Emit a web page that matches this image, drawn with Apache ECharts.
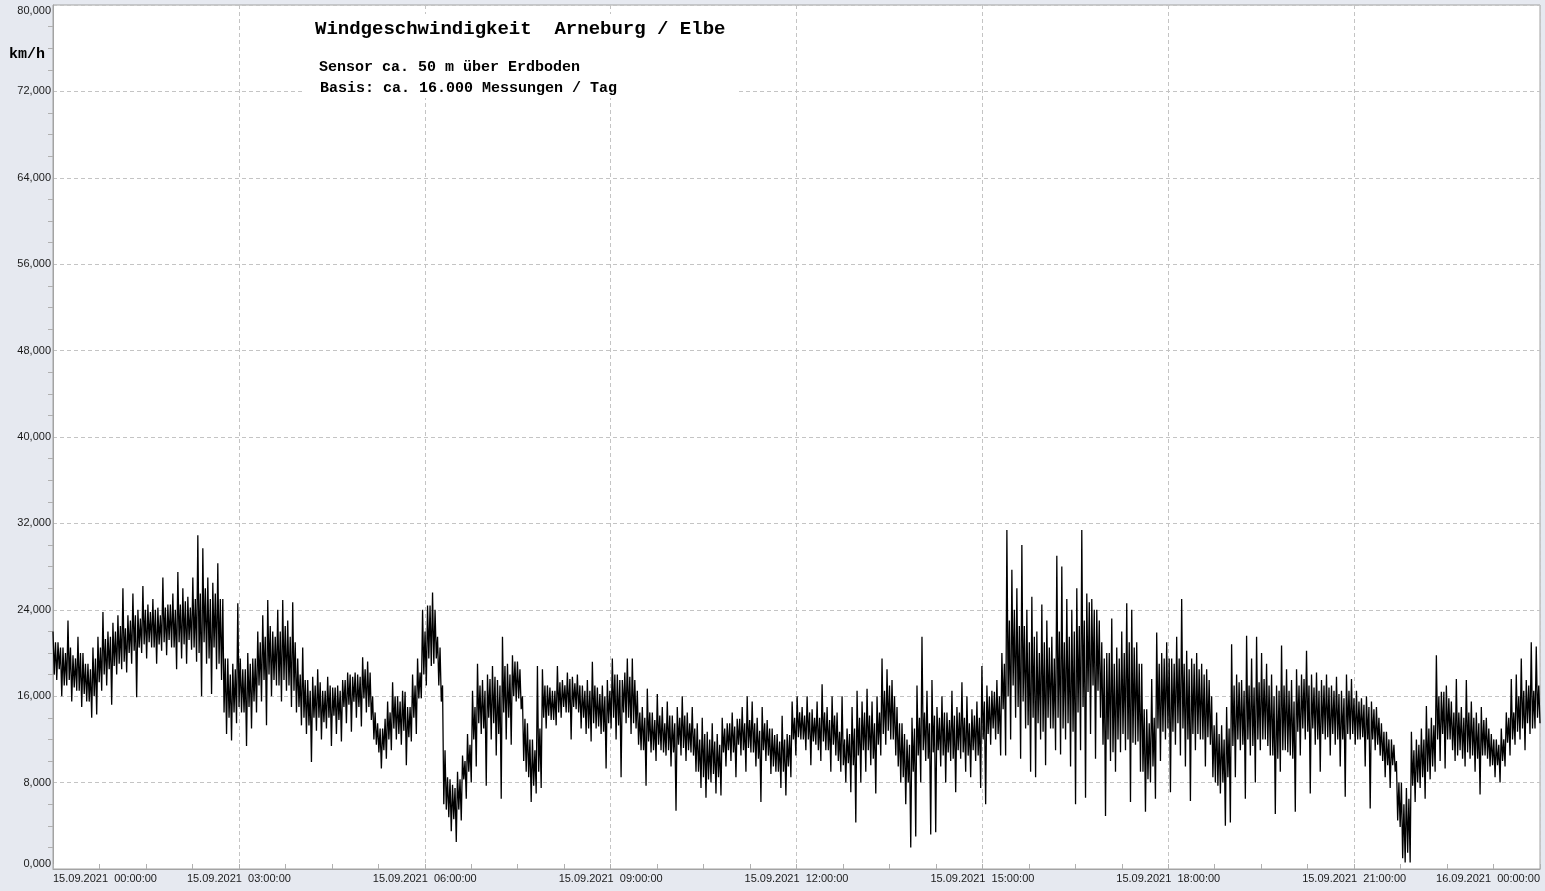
<!DOCTYPE html>
<html>
<head>
<meta charset="utf-8">
<script src="https://cdn.jsdelivr.net/npm/echarts@6/dist/echarts.min.js"></script>
<style>
html,body{margin:0;padding:0;background:#e6e9f0;}
#c{width:1545px;height:891px;}
</style>
</head>
<body>
<div id="c"></div>
<script>
// Wind speed km/h, one column every ~5 px.
// Envelope arrays: [upper spike, lower spike] per column.
var h00_03 = [22.0,17.5,21.0,16.0,20.5,17.0,23.0,15.5,19.8,16.5,21.5,15.0,20.0,15.5,19.0,14.0,20.5,14.3,21.5,16.5,23.8,17.0,22.0,15.2,22.8,18.0,23.5,18.5,26.0,18.2,23.5,19.0,25.5,15.9,24.0,20.0,26.2,19.5,24.5,20.5,25.0,19.0,24.2,20.2,27.0,19.8,24.5,20.5,25.5,18.5,27.5,19.5,26.0,19.0,25.2,20.3,27.0,19.2,30.9,16.0,29.7,19.0,27.0,16.2,26.5,18.5,28.3,17.5,25.0,12.5,19.5,11.9,19.0,13.5,24.6,14.5];
var h03_06 = [18.5,11.4,20.0,13.0,19.5,14.5,22.0,15.5,23.5,13.3,24.9,16.0,22.0,17.0,24.0,15.5,24.9,16.5,23.0,15.0,24.7,14.5,19.5,13.3,20.5,12.5,17.5,9.9,17.8,12.8,18.5,12.0,16.5,13.0,17.8,11.4,16.8,12.5,17.0,11.8,17.5,13.5,18.2,12.7,17.8,14.0,18.0,13.2,19.6,14.5,19.2,13.8,16.0,11.5,13.5,9.3,13.0,10.2,15.5,11.0,17.3,12.0,16.0,11.5,16.5,9.6,15.0,11.8,18.0,12.5,19.5,15.8,24.0,17.0];
var h06_09 = [24.4,18.8,25.6,19.5,21.5,15.5,17.0,5.5,8.5,3.5,7.8,2.5,9.0,4.5,10.5,6.5,12.5,8.0,16.5,9.5,19.0,12.5,17.5,7.7,18.0,12.0,18.8,10.5,17.5,6.5,21.5,12.0,19.0,11.5,19.8,15.5,19.2,14.8,16.0,9.0,13.5,6.2,12.0,7.0,18.8,7.5,18.5,13.0,17.0,13.8,16.5,13.3,18.8,14.0,17.5,14.5,18.2,12.0,17.8,14.8,18.0,13.0,17.0,12.5,17.5,11.8,19.2,13.0,16.8,12.5,17.0,9.3,17.5,13.0];
var h09_12 = [19.5,12.0,18.0,8.5,17.5,13.5,19.5,12.5,19.5,13.0,16.5,11.0,15.0,7.7,16.7,10.8,14.5,10.0,16.2,11.0,15.0,10.5,15.5,9.5,14.2,5.4,15.0,10.5,16.0,10.0,14.5,10.8,15.0,9.0,13.5,7.5,14.0,6.6,12.7,8.0,13.5,7.0,12.5,6.8,14.0,9.5,13.5,10.0,14.5,8.5,13.9,10.5,15.0,9.0,16.0,10.8,15.5,9.5,14.0,6.2,15.0,10.0,13.8,8.8,13.0,9.0,12.5,7.5,14.2,6.8,12.5,8.5,15.5,10.5];
var h12_15 = [16.0,12.0,15.0,11.0,16.0,9.6,14.8,11.5,15.5,10.0,17.1,11.0,15.0,9.0,16.0,10.5,14.5,9.0,16.0,8.0,13.0,7.1,15.0,4.3,16.5,8.0,15.5,9.0,16.7,9.6,15.5,7.0,16.0,10.5,19.5,11.5,18.5,12.0,17.5,10.5,15.0,8.0,13.5,6.0,12.0,2.0,14.0,3.0,17.0,8.0,21.5,10.0,16.5,3.2,17.5,3.4,15.0,9.5,16.0,8.0,14.5,10.0,16.5,7.1,15.0,10.2,17.3,9.0,16.0,8.5,14.8,10.0,15.5,7.5];
var h15_18 = [18.8,6.0,17.0,11.5,16.5,12.0,17.5,10.5,20.0,10.5,31.4,12.0,27.7,14.0,26.0,10.2,30.0,13.0,24.0,9.0,25.2,8.5,22.0,12.0,24.5,9.6,23.0,13.0,21.5,11.0,29.0,10.6,28.0,12.0,25.0,9.5,24.0,6.0,26.0,11.0,31.4,6.6,25.5,12.5,25.0,10.2,24.0,14.0,21.0,4.9,20.0,10.0,23.2,9.0,20.5,10.8,22.0,11.0,24.6,6.2,24.0,11.5,21.0,9.0,19.0,5.3,14.8,8.0,17.6,6.5,21.9,10.0,20.0,12.0];
var h18_21 = [21.0,7.1,19.5,11.5,21.5,10.5,25.0,9.5,20.2,6.3,19.5,11.0,20.0,12.0,19.0,9.5,18.5,11.5,16.0,8.0,14.5,7.0,13.3,4.0,15.0,4.3,20.8,8.5,18.0,11.0,17.5,6.5,21.6,10.5,19.5,8.0,21.5,11.0,20.0,12.0,19.0,10.5,18.0,5.1,17.0,9.0,20.7,11.0,18.5,10.5,17.5,5.3,18.5,10.5,18.0,12.0,20.2,7.0,18.0,11.5,18.2,9.0,17.5,12.0,18.0,10.5,17.0,11.5,17.8,9.5,16.5,6.7,18.0,12.0];
var h21_24 = [17.6,11.5,16.5,12.0,15.8,9.5,16.0,5.6,15.5,11.0,15.0,10.5,13.5,8.5,12.7,7.5,12.0,9.0,10.0,3.9,8.0,0.6,7.5,0.6,12.7,6.2,12.0,7.5,13.0,6.5,15.1,8.3,14.0,9.0,19.8,10.0,16.4,9.3,17.0,12.0,15.5,10.0,17.6,11.0,15.0,9.5,17.5,10.2,15.5,9.0,14.5,6.9,15.0,10.5,14.0,9.5,12.5,8.5,12.0,8.0,13.0,9.5,14.5,10.5,17.6,11.5,18.0,12.0,19.5,11.0,17.5,12.5,21.0,13.0,20.6,13.5];

// Core band arrays: [upper edge, lower edge] of the dense dark band per column.
var c00_03 = [21.0,18.0,20.5,18.5,20.0,17.0,20.5,17.5,19.5,16.8,20.0,16.5,19.0,16.2,18.5,15.5,19.5,16.0,20.5,17.3,21.3,18.0,21.5,18.5,22.0,18.8,22.5,19.0,22.3,19.2,23.0,20.0,23.5,20.2,23.2,20.5,24.0,20.8,23.8,21.0,24.0,20.5,23.5,20.8,24.2,21.0,24.5,21.2,24.0,20.5,24.5,21.0,24.8,20.8,24.2,21.2,25.0,20.5,25.5,20.0,26.0,21.0,25.0,19.5,25.5,20.5,25.0,19.0,19.5,14.5,18.0,14.0,18.5,14.5,19.5,15.0];
var c03_06 = [18.5,14.5,19.0,15.0,19.5,15.5,21.0,17.0,21.5,17.5,22.5,18.0,21.5,17.5,22.0,17.0,22.5,17.5,21.5,17.0,21.0,16.5,18.0,15.0,17.5,14.0,16.5,13.3,17.0,14.0,17.3,14.0,16.5,13.6,17.0,14.0,16.8,14.2,16.5,13.8,17.5,15.0,18.0,15.2,18.2,15.5,17.8,15.0,18.5,15.8,18.2,15.0,14.5,12.0,13.0,10.8,13.9,11.0,14.5,12.0,16.0,13.0,15.5,12.5,16.4,12.8,15.0,12.2,17.0,14.0,18.2,15.8,22.0,18.0];
var c06_09 = [24.4,19.5,24.0,19.0,20.5,17.0,11.0,6.0,8.3,4.8,7.5,4.6,8.3,5.5,10.0,8.3,11.5,9.0,15.0,12.0,17.0,13.5,16.5,13.0,17.6,14.0,17.8,13.5,17.0,12.5,18.8,14.5,18.0,14.0,19.2,16.0,18.5,15.8,13.9,10.0,12.0,8.5,11.0,7.7,13.0,9.0,17.0,14.0,16.8,14.2,16.5,13.8,17.3,14.5,17.0,15.0,17.6,14.5,17.2,15.0,17.0,14.5,16.5,14.0,16.5,13.0,17.0,13.5,16.2,13.2,16.0,12.7,16.5,13.5];
var c09_12 = [18.0,14.0,17.5,13.3,18.2,14.5,17.8,14.0,17.5,13.5,14.5,11.5,14.0,11.0,14.5,11.8,13.8,11.0,14.2,11.5,13.5,10.8,14.2,11.0,13.5,10.8,14.0,11.5,14.2,11.2,13.5,11.0,13.0,10.5,12.0,9.0,12.5,8.5,12.0,8.3,11.8,8.8,11.5,8.5,13.0,10.8,13.5,11.0,13.2,10.8,13.9,11.5,13.5,11.0,13.8,11.2,13.5,10.8,12.8,10.2,13.5,11.0,13.0,10.5,12.4,9.5,11.8,9.0,12.0,9.0,12.4,9.5,14.0,12.0];
var c12_15 = [14.5,12.2,14.2,12.0,14.5,12.0,14.0,11.8,14.0,11.0,14.5,11.8,13.8,11.0,14.2,11.5,12.7,10.0,12.0,9.6,12.5,9.8,13.0,9.6,14.0,10.5,14.5,11.0,14.2,11.0,13.5,10.2,14.5,11.5,16.5,12.5,17.0,12.8,16.0,12.0,13.5,9.5,12.5,8.5,11.5,8.0,13.0,9.0,14.0,10.5,14.5,11.0,13.5,10.2,14.2,10.8,14.0,11.0,14.5,10.5,13.8,10.8,14.2,10.2,14.5,11.0,14.0,10.8,13.5,10.5,14.2,11.0,14.0,10.5];
var c15_18 = [15.5,12.0,16.0,12.5,16.4,13.0,16.0,12.5,19.0,14.8,23.0,16.0,24.0,17.0,22.5,15.0,22.5,15.5,21.0,13.3,21.5,14.0,20.0,13.5,21.0,12.7,20.5,14.0,19.5,13.0,22.0,14.0,21.0,13.0,21.5,13.5,22.0,12.7,22.5,14.5,23.0,15.0,24.7,16.4,24.0,17.0,23.0,16.5,19.5,11.5,20.0,12.0,19.0,10.8,19.5,12.0,20.0,12.5,21.0,12.0,20.5,11.7,19.0,11.8,14.8,9.0,13.5,8.3,14.0,9.5,19.0,13.0,19.5,12.7];
var c18_21 = [19.5,13.0,19.0,12.7,19.5,13.5,19.0,13.0,18.5,12.0,19.0,12.5,18.5,12.5,18.0,12.0,17.5,12.2,13.3,8.5,12.5,7.7,12.0,8.0,13.0,8.5,17.0,11.4,17.3,12.0,16.5,11.5,17.0,12.0,16.8,11.4,17.3,12.0,17.6,12.0,17.0,11.4,16.0,10.5,16.5,10.2,17.0,11.0,16.5,10.8,15.5,10.2,17.0,12.7,17.6,13.0,17.0,12.7,16.8,13.0,16.5,12.0,17.0,12.5,16.8,12.2,16.5,12.5,16.2,12.0,15.8,12.0,16.5,12.5];
var c21_24 = [15.8,12.5,15.5,12.0,15.2,12.2,15.0,12.0,14.8,12.0,14.0,11.5,12.7,10.0,12.0,9.6,11.5,9.6,8.0,4.5,6.0,1.0,6.5,1.5,11.0,7.7,11.5,8.0,12.0,8.5,13.0,9.0,13.3,9.5,16.0,12.0,16.4,12.5,15.8,12.0,14.5,11.0,14.5,10.5,14.0,10.2,14.5,10.8,14.0,10.5,13.5,10.2,13.8,10.5,13.0,10.2,12.0,9.6,11.5,9.6,12.0,10.0,14.0,11.7,14.5,12.0,16.0,12.7,16.5,13.0,17.0,13.5,16.5,13.0,17.0,14.0];

var yTicks = [0, 8, 16, 24, 32, 40, 48, 56, 64, 72, 80];
var xTickHours = [0, 3, 6, 9, 12, 15, 18, 21, 24];

var envelope = [].concat(h00_03, h03_06, h06_09, h09_12, h12_15, h15_18, h18_21, h21_24);
var core = [].concat(c00_03, c03_06, c06_09, c09_12, c12_15, c15_18, c18_21, c21_24);

// order per column: upper spike, core lower, core upper, lower spike
var speed = [];
for (var k = 0; k < envelope.length / 2; k++) {
  speed.push(envelope[2 * k], core[2 * k + 1], core[2 * k], envelope[2 * k + 1]);
}
var step = 24 / (speed.length - 1);
var seriesData = speed.map(function (v, i) { return [i * step, v]; });

function pad(n){ return (n < 10 ? '0' : '') + n; }

var chart = echarts.init(document.getElementById('c'), null, {renderer: 'canvas'});
chart.setOption({
  animation: false,
  backgroundColor: '#e6e9f0',
  grid: {
    left: 53, right: 5, top: 5, bottom: 22,
    show: true, backgroundColor: '#ffffff', borderColor: '#a3a3a3', borderWidth: 1
  },
  xAxis: {
    type: 'value', min: 0, max: 24, interval: 3,
    axisLine: {show: true, lineStyle: {color: '#a3a3a3'}},
    axisTick: {show: true, inside: true, length: 5, lineStyle: {color: '#b0b0b0'}},
    minorTick: {show: true, splitNumber: 4, length: 5, lineStyle: {color: '#b0b0b0'}},
    splitLine: {show: true, lineStyle: {color: '#c4c4c4', type: [4, 3]}},
    axisLabel: {
      margin: 4, fontSize: 11, color: '#1a1a1a', fontFamily: 'Liberation Sans',
      alignMinLabel: 'left', alignMaxLabel: 'right',
      formatter: function (v) {
        var day = v >= 24 ? '16.09.2021' : '15.09.2021';
        var h = v >= 24 ? 0 : v;
        return day + '  ' + pad(h) + ':00:00';
      }
    }
  },
  yAxis: {
    type: 'value', min: 0, max: 80, interval: 8,
    axisLine: {show: true, lineStyle: {color: '#a3a3a3'}},
    axisTick: {show: false},
    minorTick: {show: true, splitNumber: 4, length: 5, lineStyle: {color: '#b0b0b0'}},
    splitLine: {show: true, lineStyle: {color: '#c4c4c4', type: [4, 3]}},
    axisLabel: {
      margin: 2, fontSize: 11, color: '#1a1a1a', fontFamily: 'Liberation Sans',
      verticalAlignMinLabel: 'bottom', verticalAlignMaxLabel: 'top',
      formatter: function (v) { return v.toFixed(3).replace('.', ','); }
    }
  },
  series: [{
    type: 'line', data: seriesData, showSymbol: false, sampling: null,
    lineStyle: {color: '#000000', width: 1.3}, z: 5
  }],
  graphic: [
    {type: 'rect', shape: {x: 305, y: 14, width: 432, height: 84}, style: {fill: '#ffffff'}, z: 3},
    {type: 'text', x: 315, y: 29, z: 4, style: {text: 'Windgeschwindigkeit  Arneburg / Elbe', font: 'bold 19px "Liberation Mono"', fill: '#000', verticalAlign: 'middle'}},
    {type: 'text', x: 319, y: 67, z: 4, style: {text: 'Sensor ca. 50 m über Erdboden', font: 'bold 15px "Liberation Mono"', fill: '#000', verticalAlign: 'middle'}},
    {type: 'text', x: 320, y: 88, z: 4, style: {text: 'Basis: ca. 16.000 Messungen / Tag', font: 'bold 15px "Liberation Mono"', fill: '#000', verticalAlign: 'middle'}},
    {type: 'text', x: 9, y: 54, z: 4, style: {text: 'km/h', font: 'bold 15px "Liberation Mono"', fill: '#000', verticalAlign: 'middle'}}
  ]
});
</script>
</body>
</html>
